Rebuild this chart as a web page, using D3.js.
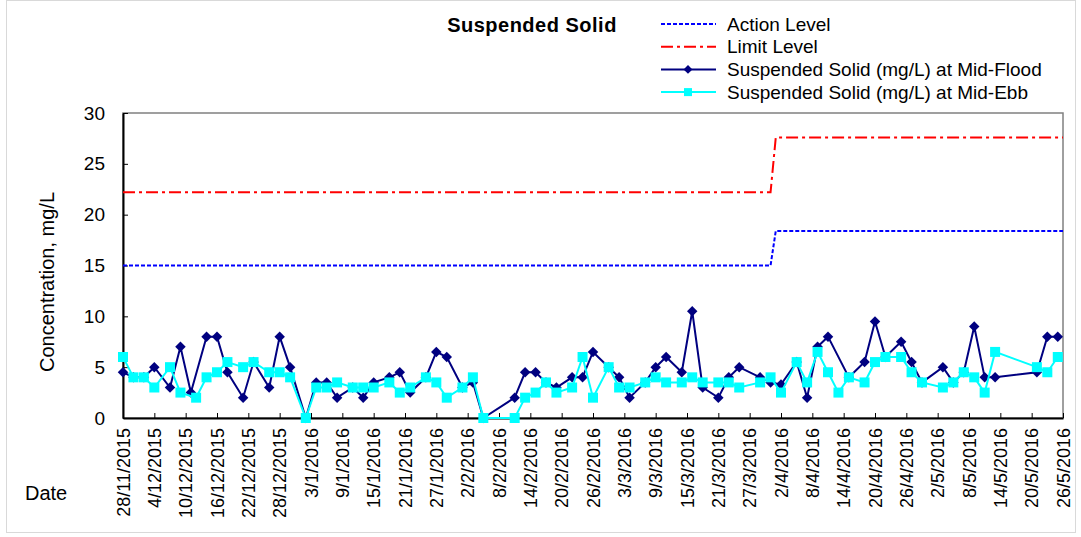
<!DOCTYPE html>
<html>
<head>
<meta charset="utf-8">
<script src="https://cdn.jsdelivr.net/npm/d3@7"></script>
<style>
  body { margin: 0; background: #fff; }
  text { font-family: Arial, "Liberation Sans", sans-serif; fill: #000; }
</style>
</head>
<body>
<div id="chart"></div>
<script>
// data
var floodDates = ['2015-11-28', '2015-11-30', '2015-12-02', '2015-12-04', '2015-12-07', '2015-12-09', '2015-12-11',
	'2015-12-14', '2015-12-16', '2015-12-18', '2015-12-21', '2015-12-23', '2015-12-26', '2015-12-28', '2015-12-30',
	'2016-01-02', '2016-01-04', '2016-01-06', '2016-01-08', '2016-01-11', '2016-01-13', '2016-01-15', '2016-01-18',
	'2016-01-20', '2016-01-22', '2016-01-25', '2016-01-27', '2016-01-29', '2016-02-01', '2016-02-03', '2016-02-05',
	'2016-02-11', '2016-02-13', '2016-02-15', '2016-02-17', '2016-02-19', '2016-02-22', '2016-02-24', '2016-02-26',
	'2016-02-29', '2016-03-02', '2016-03-04', '2016-03-07', '2016-03-09', '2016-03-11', '2016-03-14', '2016-03-16',
	'2016-03-18', '2016-03-21', '2016-03-23', '2016-03-25', '2016-03-29', '2016-03-31', '2016-04-02', '2016-04-05',
	'2016-04-07', '2016-04-09', '2016-04-11', '2016-04-15', '2016-04-18', '2016-04-20', '2016-04-22', '2016-04-25',
	'2016-04-27', '2016-04-29', '2016-05-03', '2016-05-05', '2016-05-07', '2016-05-09', '2016-05-11', '2016-05-13',
	'2016-05-21', '2016-05-23', '2016-05-25'];
var floodValues = [4.5, 4, 4, 5, 3, 7, 2.5,
	8, 8, 4.5, 2, 5.5, 3, 8, 5,
	0, 3.5, 3.5, 2, 3, 2, 3.5, 4,
	4.5, 2.5, 4, 6.5, 6, 3, 3.5, 0,
	2, 4.5, 4.5, 3.5, 3, 4, 4, 6.5,
	5, 4, 2, 3.5, 5, 6, 4.5, 10.5,
	3, 2, 4, 5, 4, 3.5, 3.3, 5.5,
	2, 7, 8, 4, 5.5, 9.5, 6, 7.5,
	5.5, 3.5, 5, 3.5, 4.5, 9, 4, 4,
	4.5, 8, 8];

var ebbDates = ['2015-11-28', '2015-11-30', '2015-12-02', '2015-12-04', '2015-12-07', '2015-12-09', '2015-12-12',
	'2015-12-14', '2015-12-16', '2015-12-18', '2015-12-21', '2015-12-23', '2015-12-26', '2015-12-28', '2015-12-30',
	'2016-01-02', '2016-01-04', '2016-01-06', '2016-01-08', '2016-01-11', '2016-01-13', '2016-01-15', '2016-01-18',
	'2016-01-20', '2016-01-22', '2016-01-25', '2016-01-27', '2016-01-29', '2016-02-01', '2016-02-03', '2016-02-05',
	'2016-02-11', '2016-02-13', '2016-02-15', '2016-02-17', '2016-02-19', '2016-02-22', '2016-02-24', '2016-02-26',
	'2016-02-29', '2016-03-02', '2016-03-04', '2016-03-07', '2016-03-09', '2016-03-11', '2016-03-14', '2016-03-16',
	'2016-03-18', '2016-03-21', '2016-03-23', '2016-03-25', '2016-03-29', '2016-03-31', '2016-04-02', '2016-04-05',
	'2016-04-07', '2016-04-09', '2016-04-11', '2016-04-13', '2016-04-15', '2016-04-18', '2016-04-20', '2016-04-22',
	'2016-04-25', '2016-04-27', '2016-04-29', '2016-05-03', '2016-05-05', '2016-05-07', '2016-05-09', '2016-05-11',
	'2016-05-13', '2016-05-21', '2016-05-23', '2016-05-25'];
var ebbValues = [6, 4, 4, 3, 5, 2.5, 2,
	4, 4.5, 5.5, 5, 5.5, 4.5, 4.5, 4,
	0, 3, 3, 3.5, 3, 3, 3, 3.5,
	2.5, 3, 4, 3.5, 2, 3, 4, 0,
	0, 2, 2.5, 3.5, 2.5, 3, 6, 2,
	5, 3, 3, 3.5, 4, 3.5, 3.5, 4,
	3.5, 3.5, 3.5, 3, 3.5, 4, 2.5, 5.5,
	3.5, 6.5, 4.5, 2.5, 4, 3.5, 5.5, 6,
	6, 4.5, 3.5, 3, 3.5, 4.5, 4, 2.5,
	6.5, 5, 4.5, 6];

var levelDates = ['2015-11-28', '2016-03-31', '2016-04-01', '2016-05-26'];
var actionValues = [15, 15, 18.4, 18.4];
var limitValues = [22.2, 22.2, 27.6, 27.6];

var yTicks = [0, 5, 10, 15, 20, 25, 30];
var xStart = '2015-11-28', xEnd = '2016-05-26';

var parse = d3.timeParse('%Y-%m-%d');
var fmt = d3.timeFormat('%-d/%-m/%Y');

function zip(dates, values) {
	return dates.map(function (d, i) {
		return { date: parse(d), value: values[i] };
	});
}

var flood = zip(floodDates, floodValues);
var ebb = zip(ebbDates, ebbValues);
var action = zip(levelDates, actionValues);
var limit = zip(levelDates, limitValues);

var W = 1081, H = 537;
var plotL = 123, plotR = 1063, plotT = 113, plotB = 418;

var svg = d3.select('#chart').append('svg')
	.attr('width', W)
	.attr('height', H);

// outer frame
svg.append('rect')
	.attr('x', 6.5).attr('y', 0.5)
	.attr('width', 1069).attr('height', 532)
	.attr('fill', '#fff')
	.attr('stroke', '#d9d9d9');

var x = d3.scaleTime()
	.domain([parse(xStart), parse(xEnd)])
	.range([plotL, plotR]);

var y = d3.scaleLinear()
	.domain([0, 30])
	.range([plotB, plotT]);

// plot area border
svg.append('rect')
	.attr('x', plotL).attr('y', plotT)
	.attr('width', plotR - plotL).attr('height', plotB - plotT)
	.attr('fill', 'none')
	.attr('stroke', '#808080')
	.attr('stroke-width', 1.5);

// axes (inward ticks)
var xTicks = d3.timeDay.range(parse(xStart), d3.timeDay.offset(parse(xEnd), 1), 6);

var xAxis = d3.axisBottom(x)
	.tickValues(xTicks)
	.tickSizeInner(-5)
	.tickSizeOuter(0)
	.tickFormat(fmt);

var gx = svg.append('g')
	.attr('transform', 'translate(0,' + plotB + ')')
	.call(xAxis);
gx.select('.domain').attr('stroke', '#000').attr('stroke-width', 2);
gx.selectAll('.tick line').attr('stroke', '#000');
gx.selectAll('.tick text')
	.attr('font-size', 18)
	.attr('text-anchor', 'end')
	.attr('transform', 'translate(0,10) rotate(-90)')
	.attr('x', 0)
	.attr('y', 0)
	.attr('dy', '0.35em');

var yAxis = d3.axisLeft(y)
	.tickValues(yTicks)
	.tickSizeInner(-5)
	.tickSizeOuter(0)
	.tickPadding(18);

var gy = svg.append('g')
	.attr('transform', 'translate(' + plotL + ',0)')
	.call(yAxis);
gy.select('.domain').attr('stroke', '#000').attr('stroke-width', 2);
gy.selectAll('.tick line').attr('stroke', '#000');
gy.selectAll('.tick text').attr('font-size', 19);

// lines
var line = d3.line()
	.x(function (d) { return x(d.date); })
	.y(function (d) { return y(d.value); });

svg.append('path').datum(action)
	.attr('d', line)
	.attr('fill', 'none')
	.attr('stroke', '#0000ff')
	.attr('stroke-width', 2)
	.attr('stroke-dasharray', '4,2');

svg.append('path').datum(limit)
	.attr('d', line)
	.attr('fill', 'none')
	.attr('stroke', '#ff0000')
	.attr('stroke-width', 2)
	.attr('stroke-dasharray', '12,4,3,4');

svg.append('path').datum(flood)
	.attr('d', line)
	.attr('fill', 'none')
	.attr('stroke', '#000080')
	.attr('stroke-width', 2);

svg.selectAll('.dia').data(flood).enter()
	.append('path')
	.attr('class', 'dia')
	.attr('d', d3.symbol().type(d3.symbolDiamond2).size(70))
	.attr('transform', function (d) { return 'translate(' + x(d.date) + ',' + y(d.value) + ')'; })
	.attr('fill', '#000080');

svg.append('path').datum(ebb)
	.attr('d', line)
	.attr('fill', 'none')
	.attr('stroke', '#00ffff')
	.attr('stroke-width', 2);

svg.selectAll('.sq').data(ebb).enter()
	.append('rect')
	.attr('class', 'sq')
	.attr('x', function (d) { return x(d.date) - 5; })
	.attr('y', function (d) { return y(d.value) - 5; })
	.attr('width', 10)
	.attr('height', 10)
	.attr('fill', '#00ffff');

// axis titles
svg.append('text')
	.attr('transform', 'translate(54,282) rotate(-90)')
	.attr('text-anchor', 'middle')
	.attr('font-size', 20)
	.text('Concentration, mg/L');

svg.append('text')
	.attr('x', 25).attr('y', 500)
	.attr('font-size', 20)
	.text('Date');

// title
svg.append('text')
	.attr('x', 532).attr('y', 32)
	.attr('text-anchor', 'middle')
	.attr('font-size', 20)
	.attr('font-weight', 'bold')
	.attr('letter-spacing', 0.5)
	.text('Suspended Solid');

// legend
var legend = [
	{ name: 'Action Level', color: '#0000ff', dash: '4,2', mark: null },
	{ name: 'Limit Level', color: '#ff0000', dash: '12,4,3,4', mark: null },
	{ name: 'Suspended Solid (mg/L) at Mid-Flood', color: '#000080', dash: null, mark: 'diamond' },
	{ name: 'Suspended Solid (mg/L) at Mid-Ebb', color: '#00ffff', dash: null, mark: 'square' }
];

var lg = svg.selectAll('.lg').data(legend).enter()
	.append('g')
	.attr('class', 'lg')
	.attr('transform', function (d, i) { return 'translate(0,' + (24 + i * 22.7) + ')'; });

lg.append('line')
	.attr('x1', 661).attr('x2', 716)
	.attr('stroke', function (d) { return d.color; })
	.attr('stroke-width', 2)
	.attr('stroke-dasharray', function (d) { return d.dash; });

lg.filter(function (d) { return d.mark === 'diamond'; })
	.append('path')
	.attr('d', d3.symbol().type(d3.symbolDiamond2).size(50))
	.attr('transform', 'translate(688,0)')
	.attr('fill', '#000080');

lg.filter(function (d) { return d.mark === 'square'; })
	.append('rect')
	.attr('x', 684).attr('y', -4)
	.attr('width', 8).attr('height', 8)
	.attr('fill', '#00ffff');

lg.append('text')
	.attr('x', 727)
	.attr('dy', '0.35em')
	.attr('font-size', 19)
	.text(function (d) { return d.name; });
</script>
</body>
</html>
